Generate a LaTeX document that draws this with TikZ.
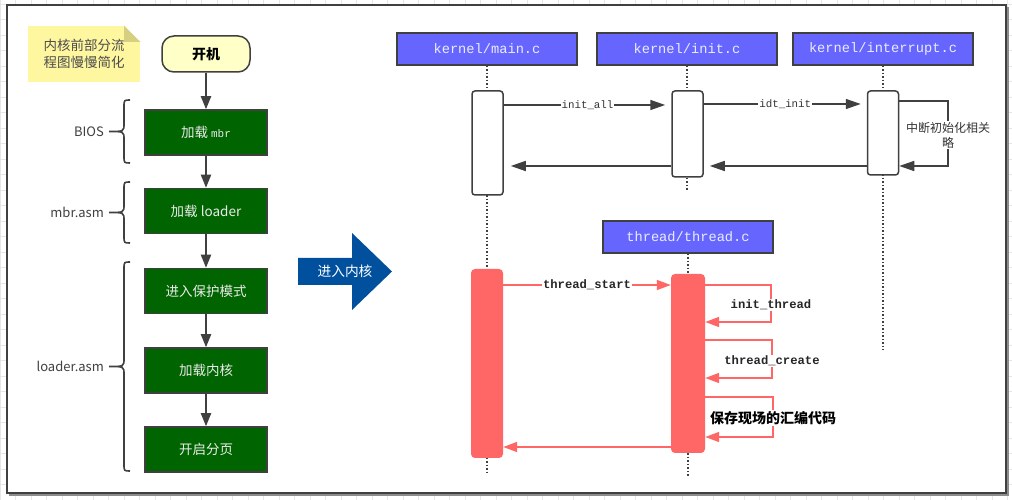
\documentclass[tikz,border=0pt]{standalone}
\usepackage{fontspec}
\setmainfont{Noto Sans CJK SC}
\setmonofont{Liberation Mono}
\usetikzlibrary{arrows.meta}

\definecolor{boxgreen}{RGB}{0,100,0}
\definecolor{edgegray}{RGB}{64,64,64}
\definecolor{headblue}{RGB}{102,102,255}
\definecolor{barred}{RGB}{255,102,102}
\definecolor{arrowblue}{RGB}{0,80,158}
\definecolor{noteyellow}{RGB}{255,247,160}
\definecolor{notefold}{RGB}{214,207,128}
\definecolor{startyellow}{RGB}{255,255,200}
\definecolor{gridgray}{RGB}{230,230,230}

\tikzset{
  notebox/.style={fill=noteyellow, minimum width=112pt, minimum height=56pt, align=center,
    text=black!70, font=\fontsize{13.5pt}{16.5pt}\selectfont},
  startbox/.style={draw=edgegray, line width=1.5pt, fill=startyellow, rounded corners=12pt,
    minimum width=88pt, minimum height=36pt, font=\fontsize{14pt}{16pt}\selectfont\bfseries},
  stepbox/.style={draw=edgegray, line width=1.5pt, fill=boxgreen, text=white!92!black,
    minimum width=122pt, minimum height=45pt, font=\fontsize{13.5pt}{16pt}\selectfont},
  flow/.style={edgegray, line width=2pt, -{Triangle[length=13pt,width=10pt]}},
  bracestyle/.style={edgegray, line width=1.6pt},
  bracelabel/.style={text=black!75, font=\fontsize{13pt}{15pt}\selectfont, inner sep=0pt},
  header/.style={draw=edgegray, line width=1.5pt, fill=headblue, text=white!92!blue,
    minimum width=180pt, minimum height=32pt, font=\ttfamily\fontsize{13.7pt}{16pt}\selectfont},
  lifeline/.style={edgegray, line width=2pt, dash pattern=on 1.5pt off 2pt},
  actbox/.style={draw=edgegray, line width=1.5pt, fill=white, rounded corners=3pt,
    minimum width=31pt, inner sep=0pt},
  redbar/.style={fill=barred, rounded corners=4pt, minimum width=32pt, inner sep=0pt},
  msg/.style={edgegray, line width=1.5pt, -{Triangle[length=15pt,width=10pt]}},
  msglabel/.style={fill=white, inner sep=1pt, text=black!80,
    font=\ttfamily\fontsize{10.8pt}{13pt}\selectfont},
  notelabel/.style={fill=white, inner sep=1pt, align=center, text=black!80,
    font=\fontsize{12pt}{15pt}\selectfont},
  redmsg/.style={barred, line width=1.5pt, -{Triangle[length=14pt,width=10pt]}},
  redlabel/.style={fill=white, inner sep=1pt, text=black!85,
    font=\ttfamily\bfseries\fontsize{12.2pt}{14pt}\selectfont},
  savelabel/.style={fill=white, inner sep=1pt, text=black,
    font=\fontsize{14pt}{16pt}\selectfont\bfseries}
}

% curly brace opening to the right, tip on the left
\newcommand{\leftbrace}[4]{%
  \draw[bracestyle] (#1,#2) .. controls ({#1-6},#2) .. ({#1-6},{#2-7})
    -- ({#1-6},{(#2+#3)/2+8}) .. controls ({#1-6},{(#2+#3)/2}) .. ({#1-21},{(#2+#3)/2})
    coordinate (#4)
    .. controls ({#1-6},{(#2+#3)/2}) .. ({#1-6},{(#2+#3)/2-8})
    -- ({#1-6},{#3+7}) .. controls ({#1-6},#3) .. (#1,#3);
}

\begin{document}
\begin{tikzpicture}[x=1pt,y=1pt]
\useasboundingbox (0,0) rectangle (1012,500);

% Background grid and frame
\draw[gridgray, line width=0.6pt, step=15.5pt] (0,0) grid (1012,500);
\fill[white] (7,7) rectangle (1006,495);
\draw[black!45, line width=1.5pt] (9,5) -- (1008,5) -- (1008,493);
\draw[edgegray, line width=1.8pt] (7,7) rectangle (1006,495);

% Note
\node[notebox] (note) at (84,446) {内核前部分流\\程图慢慢简化};
\fill[white] ([xshift=-16pt]note.north east) -- (note.north east)
  -- ([yshift=-16pt]note.north east) -- cycle;
\fill[notefold] ([xshift=-16pt]note.north east) -- ([yshift=-16pt]note.north east)
  -- ([xshift=-16pt,yshift=-16pt]note.north east) -- cycle;

% Boot flow
\node[startbox] (start) at (206,446) {开机};
\node[stepbox] (mbr) at (206,367.5) {加载 {\ttfamily\fontsize{11pt}{13pt}\selectfont mbr}};
\node[stepbox] (loader) at (206,289) {加载 loader};
\node[stepbox] (pmode) at (206,209) {进入保护模式};
\node[stepbox] (kernload) at (206,129.5) {加载内核};
\node[stepbox] (paging) at (206,50.5) {开启分页};

\foreach \a/\b in {start/mbr, mbr/loader, loader/pmode, pmode/kernload, kernload/paging}
  \draw[flow] (\a.south) -- (\b.north);

% Braces
\leftbrace{130}{400}{337}{biostip}
\leftbrace{130}{318}{257}{mbrtip}
\leftbrace{130}{238}{29}{loadertip}
\node[bracelabel, anchor=east] (bios) at ([xshift=-5pt]biostip) {BIOS};
\node[bracelabel, anchor=east] (mbrasm) at ([xshift=-5pt]mbrtip) {mbr.asm};
\node[bracelabel, anchor=east] (loaderasm) at ([xshift=-5pt]loadertip) {loader.asm};

% Big arrow
\fill[arrowblue] (298,242) -- (352,242) -- (352,267) -- (392,228.5) -- (352,190)
  -- (352,215) -- (298,215) -- cycle;
\node[text=white, font=\fontsize{13.7pt}{16pt}\selectfont] (enter) at (345,229) {进入内核};

% Headers
\node[header] (mainhd) at (487,451) {kernel/main.c};
\node[header] (inithd) at (687,451) {kernel/init.c};
\node[header] (irqhd) at (883,451) {kernel/interrupt.c};
\node[header, minimum width=170pt] (thrhd) at (688,263) {thread/thread.c};

% Lifelines
\coordinate (mainend) at (487,25);
\coordinate (initend) at (687,310);
\coordinate (irqend) at (883,150);
\coordinate (thrend) at (688,24);
\draw[lifeline] (mainhd) -- (mainend);
\draw[lifeline] (inithd) -- (initend);
\draw[lifeline] (irqhd) -- (irqend);
\draw[lifeline] (thrhd) -- (thrend);

% Activations
\node[actbox, minimum height=104pt] (mainact) at (487.5,357) {};
\node[actbox, minimum height=86pt] (initact) at (687.5,366) {};
\node[actbox, minimum height=84pt] (irqact) at (883,367) {};
\node[redbar, minimum height=189pt] (mainbar) at (487,136.5) {};
\node[redbar, minimum height=179pt, minimum width=34pt] (thrbar) at (688,136.5) {};

% Kernel init calls
\draw[msg, shorten >=6pt] (mainact.east |- 0,395) -- node[msglabel] {init\_all} (initact.west |- 0,395);
\draw[msg, shorten >=7pt] (initact.west |- 0,334) -- (mainact.east |- 0,334);
\draw[msg, shorten >=6pt] (initact.east |- 0,396) -- node[msglabel] {idt\_init} (irqact.west |- 0,396);
\draw[msg, shorten >=6pt] (irqact.west |- 0,334) -- (initact.east |- 0,334);
\draw[msg] (irqact.east |- 0,399) -| (948,365)
  node[notelabel] {中断初始化相关\\略} |- (irqact.east |- 0,334);

% Thread calls
\draw[redmsg] (mainbar.east |- 0,215) -- node[redlabel] {thread\_start} (thrbar.west |- 0,215);
\draw[redmsg] (thrbar.west |- 0,53) -- (mainbar.east |- 0,53);
\draw[redmsg] (thrbar.east |- 0,215) -| (771,195) node[redlabel] {init\_thread} |- (thrbar.east |- 0,178);
\draw[redmsg] (thrbar.east |- 0,160) -| (772,139) node[redlabel] {thread\_create} |- (thrbar.east |- 0,122);
\draw[redmsg] (thrbar.east |- 0,103) -| (773,82) node[savelabel] {保存现场的汇编代码} |- (thrbar.east |- 0,63);
\end{tikzpicture}
\end{document}
